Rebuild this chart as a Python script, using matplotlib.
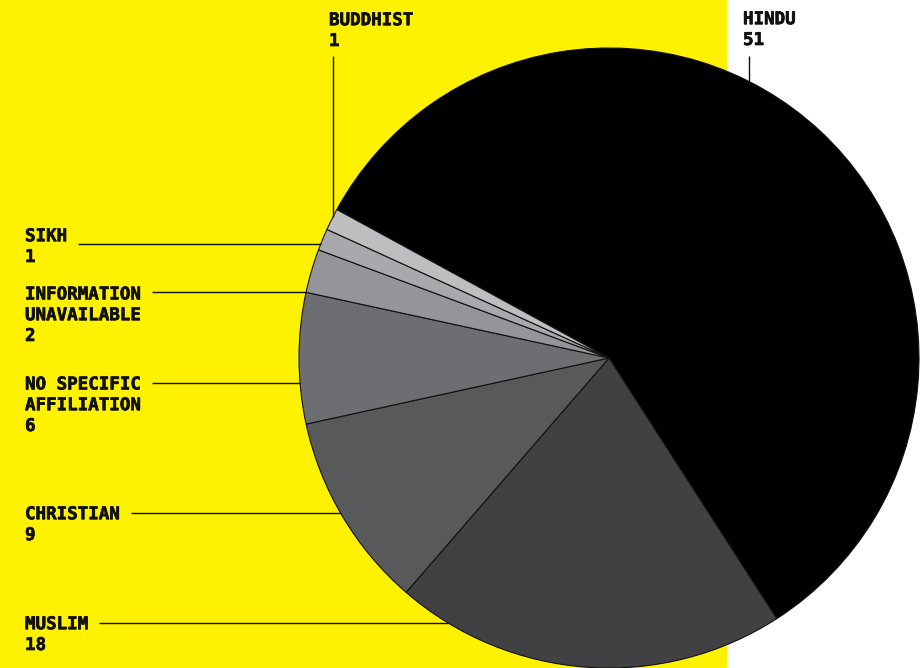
import numpy as np
import matplotlib.pyplot as plt
import matplotlib.patheffects as pe
from matplotlib.patches import Rectangle

# canvas size in pixels (dpi 100)
W, H = 921, 668

religions = ["HINDU", "MUSLIM", "CHRISTIAN", "NO SPECIFIC\nAFFILIATION",
             "INFORMATION\nUNAVAILABLE", "SIKH", "BUDDHIST"]
counts = [51, 18, 9, 6, 2, 1, 1]
colors = ["#000000", "#414042", "#58595b", "#6d6e71",
          "#939598", "#a7a9ac", "#bcbec0"]

YELLOW = "#fff200"
INK = "#111111"
FONT = dict(family="DejaVu Sans Mono", weight="bold", size=12.6, color=INK)
LINE_PITCH = 21  # px between label baselines

# pie placement, pixel coords measured from the top-left corner
CX, CY, R = 609, 358, 310
START = 151.4

# labels on the left: (first-line baseline y, leader y)
side_labels = {
    "SIKH": (241, 244),
    "INFORMATION\nUNAVAILABLE": (299, 292),
    "NO SPECIFIC\nAFFILIATION": (389, 383),
    "CHRISTIAN": (519, 513),
    "MUSLIM": (629, 623),
}
# labels above the pie: (text x, first-line baseline y, leader x)
top_labels = {
    "BUDDHIST": (329, 25, 333),
    "HINDU": (743, 24, 749),
}


def put_label(x, first_baseline, text):
    # matplotlib anchors multi-line 'baseline' text on its last line
    n_lines = text.count("\n") + 1
    t = ax.text(x, first_baseline + (n_lines - 1) * LINE_PITCH, text,
                ha="left", va="baseline", linespacing=1.2, **FONT)
    # slightly heavier glyphs
    t.set_path_effects([pe.withStroke(linewidth=0.5, foreground=INK)])
    return t


fig = plt.figure(figsize=(W / 100, H / 100), dpi=100)
fig.patch.set_facecolor("white")
ax = fig.add_axes([0, 0, 1, 1])

ax.add_patch(Rectangle((0, 0), 727, H, facecolor=YELLOW, edgecolor="none", zorder=0))

# y axis is flipped below, so counter-clockwise in data space reads clockwise
ax.pie(
    counts,
    colors=colors,
    radius=R,
    center=(CX, CY),
    startangle=-START,
    counterclock=True,
    wedgeprops=dict(edgecolor="#111111", linewidth=0.8),
)

ax.set_xlim(0, W)
ax.set_ylim(H, 0)
ax.set_aspect("equal")
ax.axis("off")

value_of = dict(zip(religions, counts))
renderer = fig.canvas.get_renderer()
inv = ax.transData.inverted()

for name, (base_y, lead_y) in side_labels.items():
    t = put_label(25, base_y, f"{name}\n{value_of[name]}")
    bb = t.get_window_extent(renderer)
    x_end_text = inv.transform((bb.x1, bb.y1))[0]
    x_edge = CX - np.sqrt(R**2 - (lead_y - CY) ** 2)
    ax.plot([x_end_text + 11, x_edge], [lead_y, lead_y],
            color=INK, linewidth=1.0, solid_capstyle="butt")

for name, (tx, base_y, lead_x) in top_labels.items():
    put_label(tx, base_y, f"{name}\n{value_of[name]}")
    y_edge = CY - np.sqrt(R**2 - (lead_x - CX) ** 2)
    ax.plot([lead_x, lead_x], [56, y_edge],
            color=INK, linewidth=1.0, solid_capstyle="butt")

fig.savefig("out.png", dpi=100, facecolor=fig.get_facecolor())
